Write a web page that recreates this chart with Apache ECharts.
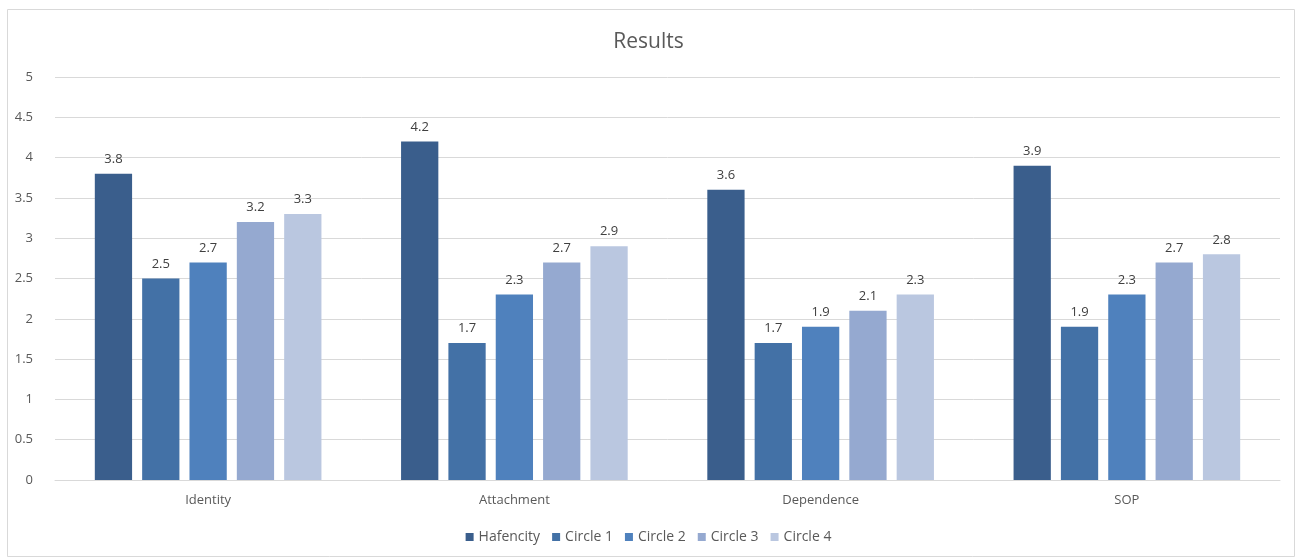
<!DOCTYPE html>
<html><head><meta charset="utf-8">
<script src="https://cdn.jsdelivr.net/npm/echarts@6/dist/echarts.min.js"></script>
<style>html,body{margin:0;padding:0;background:#fff}#c{width:1297px;height:559px}</style>
</head><body><div id="c"></div>
<script>
const categories = ['Identity', 'Attachment', 'Dependence', 'SOP'];
const seriesNames = ['Hafencity', 'Circle 1', 'Circle 2', 'Circle 3', 'Circle 4'];
const hafencity = [3.8, 4.2, 3.6, 3.9];
const circle1 = [2.5, 1.7, 1.7, 1.9];
const circle2 = [2.7, 2.3, 1.9, 2.3];
const circle3 = [3.2, 2.7, 2.1, 2.7];
const circle4 = [3.3, 2.9, 2.3, 2.8];
const colors = ['#3A5E8C', '#4371A6', '#4F81BD', '#95A9D0', '#BAC7E0'];
const values = [hafencity, circle1, circle2, circle3, circle4];

const chart = echarts.init(document.getElementById('c'));
chart.setOption({
  animation: false,
  textStyle: { fontFamily: 'Open Sans, DejaVu Sans, sans-serif' },
  title: { text: 'Results', left: 'center', top: 27, textStyle: { color: '#595959', fontSize: 21, fontWeight: 'normal', fontFamily: 'Open Sans, sans-serif' } },
  graphic: [{ type: 'rect', shape: { x: 7.5, y: 9.5, width: 1287, height: 547 }, style: { fill: 'none', stroke: '#D9D9D9', lineWidth: 1 }, silent: true }],
  legend: {
    data: seriesNames, bottom: 10, left: 'center', itemWidth: 8, itemHeight: 8, itemGap: 12,
    icon: 'rect',
    textStyle: { color: '#595959', fontSize: 14 }
  },
  grid: { left: 55, right: 17, top: 77, bottom: 79 },
  xAxis: {
    type: 'category', data: categories,
    axisLine: { lineStyle: { color: '#D9D9D9' } },
    axisTick: { show: false },
    axisLabel: { color: '#595959', fontSize: 13, margin: 14 }
  },
  yAxis: {
    type: 'value', min: 0, max: 5, interval: 0.5,
    axisLine: { show: false }, axisTick: { show: false },
    splitLine: { lineStyle: { color: '#D9D9D9' } },
    axisLabel: { color: '#595959', fontSize: 13, margin: 22 }
  },
  series: seriesNames.map((n, i) => ({
    name: n, type: 'bar', data: values[i],
    barGap: '27%', barCategoryGap: '26%',
    itemStyle: { color: colors[i] },
    label: { show: true, position: 'top', color: '#404040', fontSize: 13, distance: 8 }
  }))
});
</script></body></html>
